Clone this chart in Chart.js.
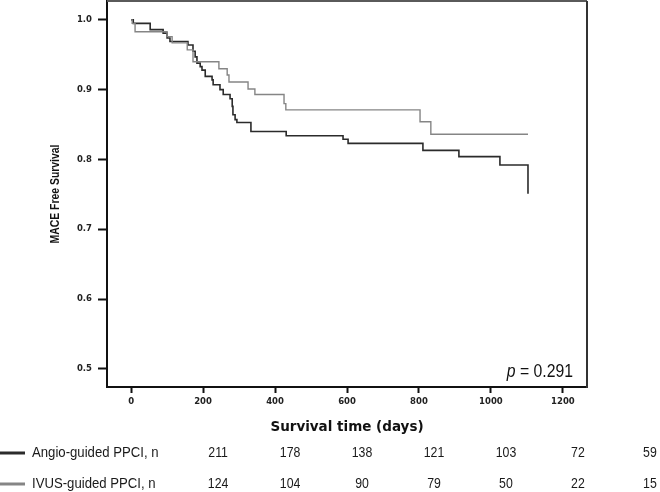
<!DOCTYPE html>
<html><head><meta charset="utf-8">
<script src="https://cdn.jsdelivr.net/npm/chart.js@4/dist/chart.umd.min.js"></script>
<style>html,body{margin:0;padding:0;background:#fff;overflow:hidden}#wrap{width:660px;height:492px;position:relative}</style>
</head><body><div id="wrap"><canvas id="c" width="660" height="492"></canvas></div>
<script>
// ---- data ----
const angioDays = [0, 6, 53, 89, 100, 108, 158, 172, 178, 183, 192, 197, 206, 225, 228, 247, 256, 275, 281, 283, 289, 294, 333, 431, 589, 603, 811, 911, 1025, 1103];
const angioSurv = [1.0, 0.995, 0.986, 0.981, 0.974, 0.969, 0.964, 0.955, 0.947, 0.938, 0.933, 0.928, 0.919, 0.914, 0.907, 0.900, 0.893, 0.887, 0.876, 0.864, 0.857, 0.853, 0.840, 0.834, 0.829, 0.823, 0.813, 0.804, 0.792, 0.751];
const ivusDays = [0, 3, 11, 100, 114, 156, 172, 244, 267, 272, 325, 344, 425, 430, 803, 833, 1103];
const ivusSurv = [1.0, 0.995, 0.983, 0.976, 0.967, 0.957, 0.940, 0.930, 0.921, 0.911, 0.901, 0.893, 0.880, 0.871, 0.854, 0.836, 0.836];
const xTicks = [0, 200, 400, 600, 800, 1000, 1200];
const yTicks = [0.5, 0.6, 0.7, 0.8, 0.9, 1.0];
const riskTimes = [0, 200, 400, 600, 800, 1000, 1200];
const angioAtRisk = [211, 178, 138, 121, 103, 72, 59];
const ivusAtRisk = [124, 104, 90, 79, 50, 22, 15];
const seriesNames = ['Angio-guided PPCI, n', 'IVUS-guided PPCI, n'];
const xTitle = 'Survival time (days)';
const yTitle = 'MACE Free Survival';
const pValue = '0.291';

const DARK = '#2b2b2b', GRAY = '#858585';
const SANS = '"Liberation Sans", Arial, sans-serif';

const toPts = (xs, ys) => xs.map((x, i) => ({x: x, y: ys[i]}));

function squeezedText(ctx, text, x, y, sx, align) {
  ctx.save();
  ctx.translate(x, y);
  ctx.scale(sx, 1);
  ctx.textAlign = align;
  ctx.fillText(text, 0, 0);
  ctx.restore();
}

const extras = {
  id: 'extras',
  afterDraw(chart) {
    const ctx = chart.ctx, a = chart.chartArea, xs = chart.scales.x;
    ctx.save();
    // top & right frame
    ctx.lineWidth = 2;
    ctx.strokeStyle = '#5a5a5a';
    ctx.beginPath(); ctx.moveTo(a.left, a.top); ctx.lineTo(a.right, a.top); ctx.stroke();
    ctx.strokeStyle = '#333';
    ctx.beginPath(); ctx.moveTo(a.right, a.top); ctx.lineTo(a.right, a.bottom + 1); ctx.stroke();

    // y axis title (condensed bold)
    ctx.fillStyle = '#111';
    ctx.save();
    ctx.translate(55, (a.top + a.bottom) / 2);
    ctx.rotate(-Math.PI / 2);
    ctx.scale(0.8, 1);
    ctx.font = 'bold 13px ' + SANS;
    ctx.textAlign = 'center';
    ctx.textBaseline = 'middle';
    ctx.fillText(yTitle, 0, 0);
    ctx.restore();

    // p value
    ctx.fillStyle = '#111';
    ctx.textBaseline = 'alphabetic';
    const sx = 0.83;
    const px = a.right - 14, py = a.bottom - 10;
    ctx.font = '19px ' + SANS;
    const rest = '= ' + pValue;
    const w = ctx.measureText(rest).width * sx;
    squeezedText(ctx, rest, px, py, sx, 'right');
    ctx.font = 'italic 19px ' + SANS;
    squeezedText(ctx, 'p ', px - w, py, sx, 'right');

    // number at risk table
    const rows = [
      {name: seriesNames[0], vals: angioAtRisk, color: DARK, y: 453},
      {name: seriesNames[1], vals: ivusAtRisk, color: GRAY, y: 484}
    ];
    const off = 87;
    rows.forEach(r => {
      ctx.strokeStyle = r.color; ctx.lineWidth = 3;
      ctx.beginPath(); ctx.moveTo(0, r.y); ctx.lineTo(25, r.y); ctx.stroke();
      ctx.fillStyle = '#1a1a1a';
      ctx.font = '14px ' + SANS;
      ctx.textBaseline = 'middle';
      squeezedText(ctx, r.name, 32, r.y, 0.94, 'left');
      r.vals.forEach((v, i) => {
        squeezedText(ctx, String(v), xs.getPixelForValue(riskTimes[i]) + off, r.y, 0.88, 'center');
      });
    });
    ctx.restore();
  }
};

new Chart(document.getElementById('c'), {
  type: 'line',
  data: {
    datasets: [
      {label: seriesNames[1], data: toPts(ivusDays, ivusSurv), borderColor: GRAY, borderWidth: 1.4, stepped: 'before', pointRadius: 0, fill: false},
      {label: seriesNames[0], data: toPts(angioDays, angioSurv), borderColor: DARK, borderWidth: 1.6, stepped: 'before', pointRadius: 0, fill: false}
    ]
  },
  options: {
    responsive: false,
    animation: false,
    devicePixelRatio: 1,
    layout: {padding: {left: 0, top: 1, right: 73, bottom: 45}},
    plugins: {legend: {display: false}, tooltip: {enabled: false}},
    scales: {
      x: {
        type: 'linear', min: -67, max: 1267,
        afterFit: s => { s.height = 60; s.paddingLeft = 0; s.paddingRight = 0; },
        afterBuildTicks: s => { s.ticks = xTicks.map(v => ({value: v})); },
        grid: {drawOnChartArea: false, tickLength: 6, tickWidth: 2, tickColor: '#111'},
        border: {display: true, color: '#111', width: 2},
        ticks: {padding: 4, color: '#222', font: {family: 'DejaVu Sans', size: 8.5, weight: 'bold'}, maxRotation: 0, callback: v => String(v)},
        title: {display: true, text: xTitle, color: '#111', font: {family: 'DejaVu Sans', size: 13.5, weight: 'bold'}, padding: {top: 0, bottom: 11}}
      },
      y: {
        type: 'linear', min: 0.474, max: 1.027,
        afterFit: s => { s.width = 107; s.paddingTop = 0; s.paddingBottom = 0; },
        afterBuildTicks: s => { s.ticks = yTicks.map(v => ({value: v})); },
        grid: {drawOnChartArea: false, tickLength: 9, tickWidth: 2, tickColor: '#111'},
        border: {display: true, color: '#111', width: 2},
        ticks: {padding: 6, color: '#222', font: {family: 'DejaVu Sans', size: 8.5, weight: 'bold'}, callback: v => v.toFixed(1)},
        title: {display: false}
      }
    }
  },
  plugins: [extras]
});
</script></body></html>
